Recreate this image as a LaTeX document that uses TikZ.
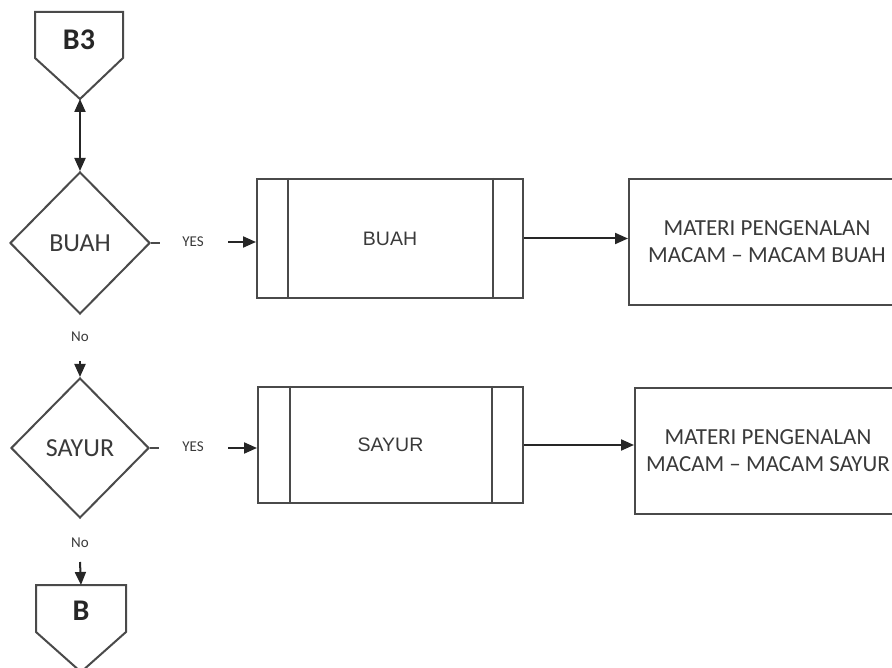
\documentclass[tikz,border=0pt]{standalone}
\usepackage{fontspec}
\setmainfont{Carlito}
\newfontfamily\arialf{Liberation Sans}
\usetikzlibrary{shapes.geometric,arrows.meta,calc}
\definecolor{lc}{HTML}{4A4A4A}
\definecolor{tc}{HTML}{3A3A3A}
\tikzset{
  shp/.style={draw=lc,line width=2pt},
  dec/.style={shp,diamond,inner sep=0pt,text=tc,font=\fontsize{26}{28}\selectfont},
  proc/.style={shp,rectangle,inner sep=0pt,text=tc,font=\arialf\fontsize{19.5}{21}\selectfont},
  mat/.style={shp,rectangle,inner sep=0pt,text=tc,align=center,font=\fontsize{23}{27}\selectfont},
  small/.style={text=tc,inner sep=0pt,font=\fontsize{15}{16}\selectfont},
  offtxt/.style={text=black!85,inner sep=0pt,font=\bfseries\fontsize{30}{32}\selectfont},
  arr/.style={draw=black!85,line width=2pt,-{Triangle[length=13pt,width=11pt]}},
  darr/.style={draw=black!85,line width=2pt,{Triangle[length=13pt,width=11pt]}-{Triangle[length=13pt,width=11pt]}},
  tick/.style={draw=lc,line width=1.6pt}
}
\begin{document}
\begin{tikzpicture}[x=1pt,y=-1pt]
\useasboundingbox (0,0) rectangle (892,668);
\clip (0,0) rectangle (892,668);
% off-page B3
\draw[shp] (35,12) -- (123,12) -- (123,58) -- (80,99) -- (35,58) -- cycle;
\coordinate (b3tip) at (80,99);
\node[offtxt] (b3) at (79,40) {B3};
% decision BUAH
\node[dec,minimum width=140pt,minimum height=142pt] (d1) at (80,243) {BUAH};
\draw[darr] (b3tip) -- (d1.north);
\draw[tick] (d1.east) -- ++(9,0);
\node[small] (yes1) at (193,242) {YES};
\coordinate (a1) at (228,242);
% process BUAH
\node[proc,minimum width=266pt,minimum height=119pt] (p1) at (390,238.5) {BUAH};
\draw[shp] ([xshift=32pt]p1.north west) -- ([xshift=32pt]p1.south west);
\draw[shp] ([xshift=-31pt]p1.north east) -- ([xshift=-31pt]p1.south east);
\draw[arr] (a1) -- (a1 -| p1.west);
% materi BUAH
\node[mat,minimum width=276pt,minimum height=126pt] (m1) at (767,242) {MATERI PENGENALAN\\MACAM -- MACAM BUAH};
\draw[arr] (p1.east) -- (p1.east -| m1.west);
% No 1
\node[small] (no1) at (80,337) {No};
\coordinate (a2) at (80,361);
% decision SAYUR
\node[dec,minimum width=138pt,minimum height=140pt] (d2) at (80,448) {SAYUR};
\draw[arr] (a2) -- (d2.north);
\draw[tick] (d2.east) -- ++(9,0);
\node[small] (yes2) at (193,447) {YES};
\coordinate (a3) at (228,448);
% process SAYUR
\node[proc,minimum width=265pt,minimum height=116pt] (p2) at (390.5,445) {SAYUR};
\draw[shp] ([xshift=33pt]p2.north west) -- ([xshift=33pt]p2.south west);
\draw[shp] ([xshift=-32pt]p2.north east) -- ([xshift=-32pt]p2.south east);
\draw[arr] (a3) -- (a3 -| p2.west);
% materi SAYUR
\node[mat,minimum width=266pt,minimum height=126pt] (m2) at (768,451) {MATERI PENGENALAN\\MACAM -- MACAM SAYUR};
\draw[arr] (p2.east) -- (p2.east -| m2.west);
% No 2
\node[small] (no2) at (80,543) {No};
\coordinate (a4) at (80,562);
% off-page B
\draw[shp] (36,585) -- (126,585) -- (126,632) -- (81,672) -- (36,632) -- cycle;
\node[offtxt] (bb) at (81,611) {B};
\coordinate (btop) at (81,585);
\draw[arr] (a4) -- (btop);
\end{tikzpicture}
\end{document}
